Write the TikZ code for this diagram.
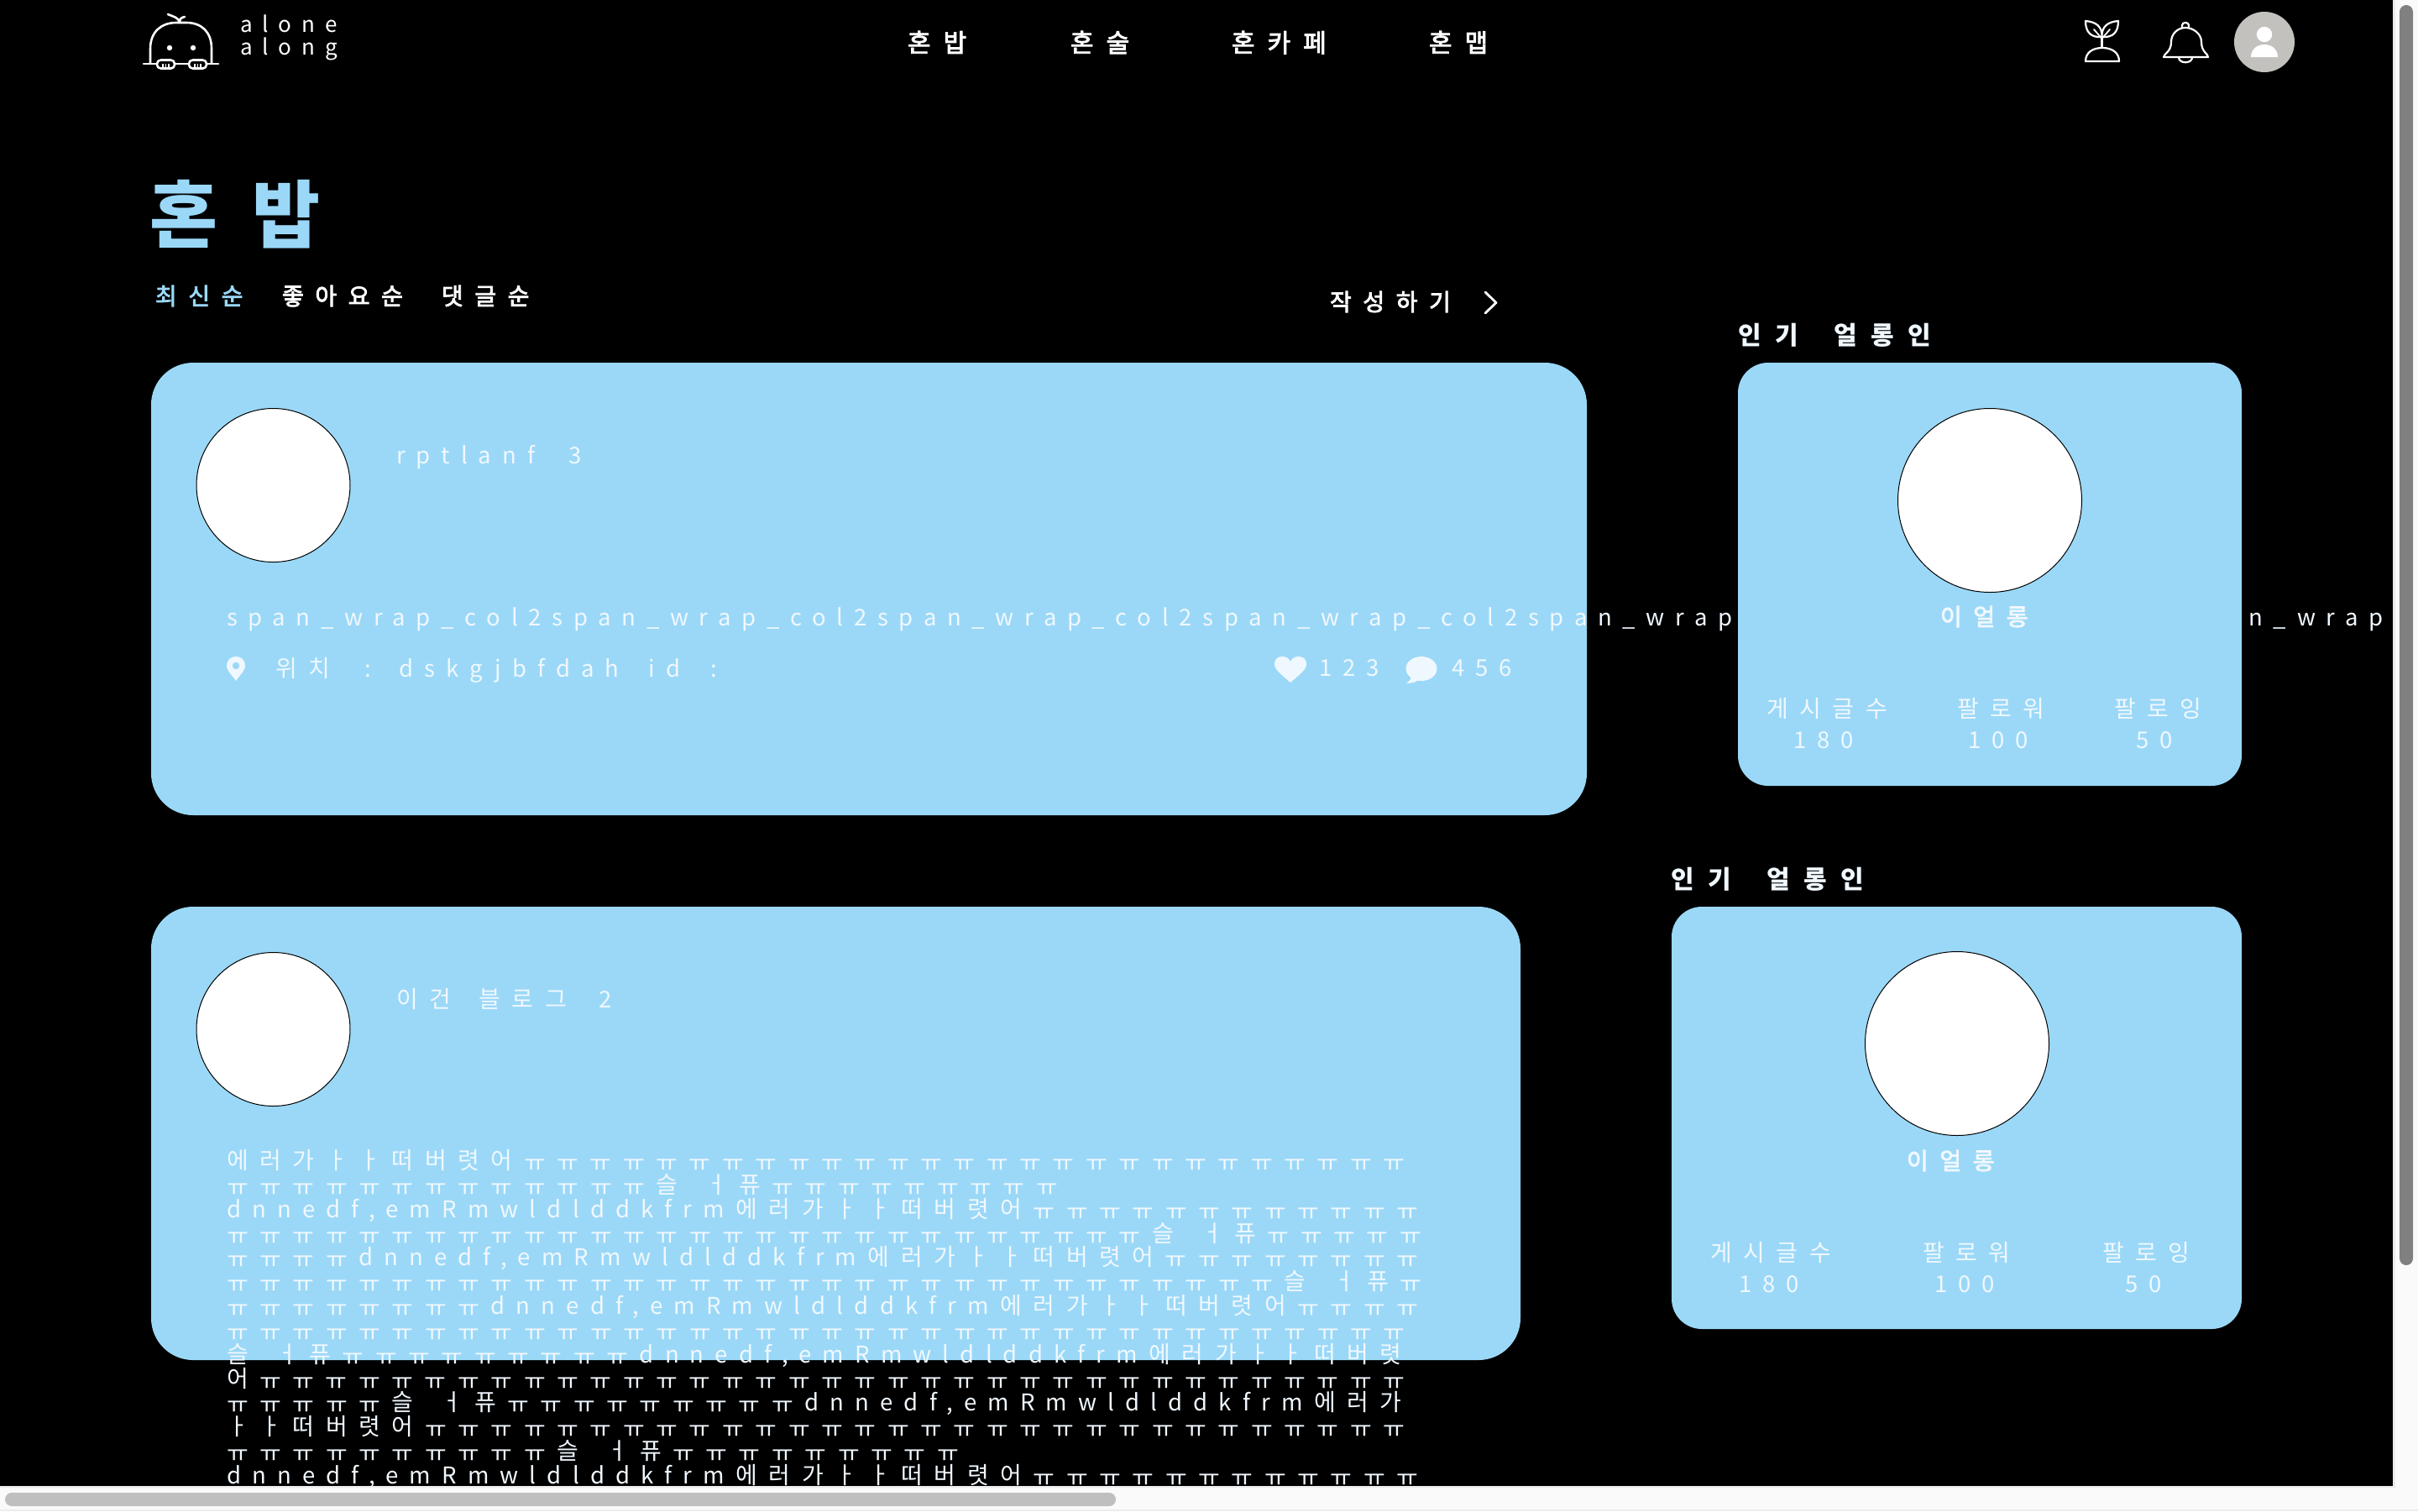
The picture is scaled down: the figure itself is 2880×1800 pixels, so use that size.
\documentclass[tikz,border=0pt]{standalone}
\usepackage{fontspec}
\setmainfont{Noto Sans CJK KR}
\newfontfamily\fbody[LetterSpace=47.8]{Noto Sans CJK KR}
\newfontfamily\fspan[LetterSpace=46.1]{Noto Sans CJK KR}
\newfontfamily\flogo[LetterSpace=46]{Noto Sans CJK KR}
\newfontfamily\fhg[LetterSpace=48.6]{Noto Sans CJK KR}
\newfontfamily\fmed[LetterSpace=48.6,FakeBold=3]{Noto Sans CJK KR}
\newfontfamily\fnav[LetterSpace=50,FakeBold=3]{Noto Sans CJK KR}
\newfontfamily\fhead[LetterSpace=55]{Noto Sans CJK KR}
\newfontfamily\ftitle[LetterSpace=47]{Noto Sans CJK KR}
\ExplSyntaxOn
\cs_new:Npn \prgrep #1 { \prg_replicate:nn {#1}{ㅠ} }
\ExplSyntaxOff
\newcommand\hgf{\fhg\fontsize{28}{30}\selectfont}
\newcommand\tail{\kern13.4pt}
\newcommand\hg[1]{{\hgf #1}\tail}
\newcommand\gap{\ \kern13.6pt}
\newcommand\rp[1]{\lower3.5pt\hbox{\hgf\prgrep{#1}}\tail}
\newcommand\ER{\hg{에러가ㅏㅏ떠버렷어}}
\newcommand\DN{dnnedf,emRmwldlddkfrm\tail}
\newcommand\SL{\hg{슬\gap ㅓ퓨}}
\newcommand\SW{span\_wrap\_col2}
\definecolor{skyfill}{HTML}{9BD8F7}
\definecolor{inktext}{HTML}{F0F8FF}
\definecolor{trackfill}{HTML}{FAFAFA}
\definecolor{trackline}{HTML}{ECECEC}
\tikzset{
  body/.style={anchor=base west,inner sep=0pt,outer sep=0pt,text=inktext,font={\fbody\fontsize{27.5}{30}\selectfont}},
  spantext/.style={anchor=base west,inner sep=0pt,outer sep=0pt,text=inktext,font={\fspan\fontsize{27.5}{30}\selectfont}},
  menu/.style={anchor=base west,inner sep=0pt,outer sep=0pt,text=white,font={\fmed\fontsize{28}{32}\selectfont}},
  navtext/.style={anchor=base west,inner sep=0pt,outer sep=0pt,text=white,font={\fnav\fontsize{30}{34}\selectfont}},
  headtext/.style={anchor=base west,inner sep=0pt,outer sep=0pt,text=inktext,font={\fhead\bfseries\fontsize{30}{34}\selectfont}},
  nametext/.style={anchor=base west,inner sep=0pt,outer sep=0pt,text=inktext,font={\fmed\fontsize{28}{31}\selectfont}},
  logotext/.style={anchor=base west,inner sep=0pt,outer sep=0pt,text=white,font={\flogo\fontsize{26}{30}\selectfont}},
  cardfill/.style={fill=skyfill},
  portrait/.style={circle,draw=black,line width=1pt,fill=white,inner sep=0pt},
  lineicon/.style={draw=white,line width=2.6pt,line cap=round,line join=round},
}
\begin{document}
\begin{tikzpicture}[x=1pt,y=-1pt]
\useasboundingbox (0,0) rectangle (2880,1800);
\fill[black] (0,0) rectangle (2880,1800);

% logo
\draw[lineicon] (171,76) -- (260,76);
\draw[lineicon] (179,76) -- (179,58) .. controls (179,38) and (192,27) .. (210,27) -- (222,27) .. controls (240,27) and (252,38) .. (252,58) -- (252,76);
\draw[lineicon] (200,17) .. controls (207,20) and (213,21) .. (214,27) .. controls (214,22) and (216,21) .. (220,20);
\fill[white] (202,57) circle (3.2) (230,57) circle (3.2);
\foreach \px in {187,225}{
  \draw[lineicon,fill=black,rounded corners=4.5] (\px,81.5) rectangle (\px+21,71.5);
  \draw[white,line width=1.5pt] (\px+7,76) -- (\px+7,81) (\px+10.5,76) -- (\px+10.5,81) (\px+14,76) -- (\px+14,81);
}
\node[logotext] (logoa) at (286,38) {alone};
\node[logotext] (logob) at (286,65) {along};

% nav
\node[navtext] (nava) at (1081,62) {혼밥};
\node[navtext] (navb) at (1275,62) {혼술};
\node[navtext] (navc) at (1467,62) {혼카페};
\node[navtext] (navd) at (1702,62) {혼맵};

% sprout icon
\draw[lineicon,line width=2.2pt] (2484,73) -- (2524,73) .. controls (2524,63) and (2516,57) .. (2504,57) .. controls (2492,57) and (2484,63) .. (2484,73) -- cycle;
\draw[lineicon,line width=2.2pt] (2503.5,57) -- (2503.5,44);
\draw[lineicon,line width=2.2pt] (2503.5,44) .. controls (2490,45) and (2484,38) .. (2484,25) .. controls (2497,26) and (2504,32) .. (2503.5,44) .. controls (2503,32) and (2510,26) .. (2523,25) .. controls (2523,38) and (2517,45) .. (2503.5,44);
\draw[lineicon,line width=1.8pt] (2494,35) -- (2503.5,46) -- (2513,35);
% bell icon
\draw[lineicon,line width=2.2pt] (2577,68) .. controls (2577,64) and (2586,62) .. (2586,50) .. controls (2586,40) and (2594,33) .. (2603,33) .. controls (2612,33) and (2622,40) .. (2622,50) .. controls (2622,62) and (2630,64) .. (2630,68) -- cycle;
\draw[lineicon,line width=2.2pt] (2599,33) -- (2599,30) .. controls (2599,26) and (2607,26) .. (2607,30) -- (2607,33);
\draw[lineicon,line width=2.2pt] (2595,69) .. controls (2596,76) and (2610,76) .. (2611,69);
% user
\node[circle,fill=black!28!white!98!yellow,minimum size=72pt,inner sep=0pt] (userbg) at (2697,50) {};
\fill[white] (2697,41) circle (9.2);
\fill[white] (2681,68) .. controls (2681,58) and (2689,53) .. (2697,53) .. controls (2705,53) and (2713,58) .. (2713,68) -- cycle;

% page title and tabs
\node[anchor=base west,inner sep=0pt,text=skyfill,font={\ftitle\bfseries\fontsize{88}{92}\selectfont}] (title) at (178,288) {혼\kern-20pt\ 밥};
\node[menu,text=skyfill] (taba) at (185,363) {최신순};
\node[menu] (tabb) at (336,363) {좋아요순};
\node[menu] (tabc) at (526,363) {댓글순};
\node[menu] (write) at (1584,370) {작성하기};
\node[coordinate] (chevtop) at (1769,348) {};
\node[coordinate] (chevtip) at (1782,360.5) {};
\node[coordinate] (chevbot) at (1769,373) {};
\draw[white,line width=2.8pt,line cap=round,line join=round] (chevtop) -- (chevtip) -- (chevbot);

% first post card
\fill[cardfill,rounded corners=50] (180,432) rectangle (1890,971);
\node[spantext] (spanline) at (270,745) {\SW\SW\SW\SW\SW\SW span\_wrap};
\node[portrait,minimum size=183pt] (avatara) at (325.5,578) {};
\node[body] (posta) at (472,552) {rptlanf\gap\kern7pt 3};
\fill[inktext] (270,793) .. controls (270,786) and (275,782) .. (281,782) .. controls (287,782) and (292,786) .. (292,793) .. controls (292,799) and (284,806) .. (281,811) .. controls (278,806) and (270,799) .. (270,793) -- cycle;
\fill[skyfill] (281,793) circle (4.2);
\node[body] (loc) at (328,806) {\hg{위치}\ \kern9pt:\gap dskgjbfdah\gap\kern2pt id\gap\kern3pt:};
\fill[inktext] (1537,813) .. controls (1527,804) and (1518,798) .. (1518,791) .. controls (1518,785) and (1522,782) .. (1527,782) .. controls (1532,782) and (1535,784) .. (1537,788) .. controls (1539,784) and (1542,782) .. (1547,782) .. controls (1552,782) and (1556,785) .. (1556,791) .. controls (1556,798) and (1547,804) .. (1537,813) -- cycle;
\node[body] (likes) at (1571,805) {123};
\fill[inktext] (1693,796.5) ellipse (18.5 and 14.5);
\fill[inktext] (1681,805) .. controls (1681,809) and (1678,812) .. (1675,814) .. controls (1682,814) and (1688,812) .. (1692,808) -- cycle;
\node[body] (replies) at (1729,805) {456};

% first side card
\node[headtext] (heada) at (2070,410) {인기\gap\kern6pt 얼롱인};
\fill[cardfill,rounded corners=36] (2070,432) rectangle (2670,936);
\node[portrait,minimum size=219pt] (avatarb) at (2370,596) {};
\node[nametext] (namea) at (2311,745) {이얼롱};
\node[body] (sa) at (2104,854) {\hg{게시글수}};
\node[body] (sb) at (2331,854) {\hg{팔로워}};
\node[body] (sc) at (2518,854) {\hg{팔로잉}};
\node[body] (na) at (2136,891) {180};
\node[body] (nb) at (2344,891) {100};
\node[body] (nc) at (2544,891) {50};

% second post card
\fill[cardfill,rounded corners=50] (180,1080) rectangle (1811,1620);
\node[portrait,minimum size=183pt] (avatarc) at (325.5,1226) {};
\node[body] (postb) at (472,1200) {\hg{이건\gap 블로그}\ \kern5.6pt 2};
\begin{scope}
\clip (0,0) rectangle (2850,1770);
\node[body] (la) at (270,1392) {\ER\rp{27}};
\node[body] (lb) at (270,1421) {\rp{13}\SL\rp{9}};
\node[body] (lc) at (270,1450) {\DN\ER\rp{12}};
\node[body] (ld) at (270,1479) {\rp{28}\SL\rp{5}};
\node[body] (le) at (270,1507) {\rp{4}\DN\ER\rp{8}};
\node[body] (lf) at (270,1536) {\rp{32}\SL\rp{1}};
\node[body] (lg) at (270,1565) {\rp{8}\DN\ER\rp{4}};
\node[body] (lh) at (270,1594) {\rp{36}};
\node[body] (li) at (270,1623) {\SL\rp{9}\DN\hg{에러가ㅏㅏ떠버렷}};
\node[body] (lj) at (270,1652) {\hg{어}\rp{35}};
\node[body] (lk) at (270,1680) {\rp{5}\SL\rp{9}\DN\hg{에러가}};
\node[body] (ll) at (270,1709) {\hg{ㅏㅏ떠버렷어}\rp{30}};
\node[body] (lm) at (270,1738) {\rp{10}\SL\rp{9}};
\node[body] (ln) at (270,1767) {\DN\ER\rp{12}};
\end{scope}

% second side card
\node[headtext] (headb) at (1990,1058) {인기\gap\kern6pt 얼롱인};
\fill[cardfill,rounded corners=36] (1991,1080) rectangle (2670,1583);
\node[portrait,minimum size=219pt] (avatard) at (2331,1243) {};
\node[nametext] (nameb) at (2271,1393) {이얼롱};
\node[body] (ta) at (2037,1502) {\hg{게시글수}};
\node[body] (tb) at (2290,1502) {\hg{팔로워}};
\node[body] (tc) at (2504,1502) {\hg{팔로잉}};
\node[body] (ma) at (2071,1539) {180};
\node[body] (mb) at (2304,1539) {100};
\node[body] (mc) at (2531,1539) {50};

% scroll bars
\fill[trackfill] (2850,0) rectangle (2880,1800);
\fill[trackfill] (0,1770) rectangle (2880,1800);
\fill[trackline] (2850,0) rectangle (2853,1772);
\fill[trackline] (0,1770) rectangle (2853,1772);
\fill[trackline] (0,1798) rectangle (2880,1800);
\fill[black!50,rounded corners=8] (2858,6) rectangle (2874,1507);
\fill[black!25,rounded corners=8] (6,1778) rectangle (1329,1794);
\end{tikzpicture}
\end{document}
